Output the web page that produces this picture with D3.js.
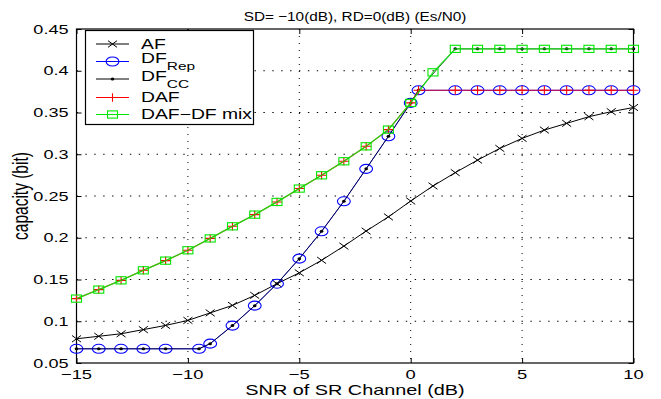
<!DOCTYPE html>
<html><head><meta charset="utf-8">
<script src="https://cdn.jsdelivr.net/npm/d3@7/dist/d3.min.js"></script>
<style>body{margin:0;background:#fff}svg{display:block}</style></head>
<body><svg id="c" width="661" height="399"></svg>
<script>
// ---- data ----
const xTicks = [-15, -10, -5, 0, 5, 10];
const yTicks = [0.05, 0.1, 0.15, 0.2, 0.25, 0.3, 0.35, 0.4, 0.45];
const yTickLabels = ["0.05", "0.1", "0.15", "0.2", "0.25", "0.3", "0.35", "0.4", "0.45"];

const afX = [-15,-14,-13,-12,-11,-10,-9,-8,-7,-6,-5,-4,-3,-2,-1,0,1,2,3,4,5,6,7,8,9,10];
const afY = [0.079,0.082,0.085,0.090,0.095,0.101,0.110,0.119,0.131,0.145,0.158,0.173,0.190,0.208,0.225,0.244,0.262,0.278,0.293,0.307,0.319,0.329,0.337,0.345,0.351,0.356];

const dfX = [-15,-14,-13,-12,-11,-9.5,-9,-8,-7,-6,-5,-4,-3,-2,-1,0,0.35,2,3,4,5,6,7,8,9,10];
const dfRepY = [0.067,0.067,0.067,0.067,0.067,0.067,0.0732,0.0948,0.1187,0.145,0.175,0.2077,0.2437,0.2825,0.3215,0.3615,0.3766,0.3766,0.3766,0.3766,0.3766,0.3766,0.3766,0.3766,0.3766,0.3766];
const dfCcY  = [0.067,0.067,0.067,0.067,0.067,0.067,0.0732,0.0948,0.1187,0.145,0.175,0.2077,0.2437,0.2825,0.3215,0.3615,0.3766,0.4262,0.4262,0.4262,0.4262,0.4262,0.4262,0.4262,0.4262,0.4262];

const dafX = [-15,-14,-13,-12,-11,-10,-9,-8,-7,-6,-5,-4,-3,-2,-1,0,0.35,2,3,4,5,6,7,8,9,10];
const dafY = [0.1271,0.1379,0.149,0.161,0.1726,0.185,0.1992,0.2137,0.2277,0.2429,0.2589,0.2748,0.2916,0.3095,0.3295,0.3615,0.3766,0.3766,0.3766,0.3766,0.3766,0.3766,0.3766,0.3766,0.3766,0.3766];

const mixX = [-15,-14,-13,-12,-11,-10,-9,-8,-7,-6,-5,-4,-3,-2,-1,0,1,2,3,4,5,6,7,8,9,10];
const mixY = [0.1271,0.1379,0.149,0.161,0.1726,0.185,0.1992,0.2137,0.2277,0.2429,0.2589,0.2748,0.2916,0.3095,0.3295,0.3615,0.3981,0.4262,0.4262,0.4262,0.4262,0.4262,0.4262,0.4262,0.4262,0.4262];

const titleText = "SD= \u221210(dB), RD=0(dB) (Es/N0)";
const xLabel = "SNR of SR Channel (dB)";
const yLabel = "capacity (bit)";

// ---- layout ----
const L = 76.5, R = 633.5, T = 29, B = 363;
const FONT = "'Liberation Sans', Arial, Helvetica, sans-serif";
const SX = 1.38;
const GREEN = "#00e600";

const svg = d3.select("#c");
const x = d3.scaleLinear().domain([-15, 10]).range([L, R]);
const y = d3.scaleLinear().domain([0.05, 0.45]).range([B, T]);

function txt(g, px, py, s, anchor, fs, sx) {
  const gg = g.append("g").attr("transform", `translate(${px},${py}) scale(${sx == null ? SX : sx},1)`);
  return gg.append("text").attr("font-family", FONT).attr("font-size", fs)
    .attr("text-anchor", anchor || "start").attr("fill", "#000").text(s);
}

// grid
const grid = svg.append("g");
grid.selectAll("line.gx").data(xTicks.slice(1, -1)).join("line")
  .attr("x1", d => x(d)).attr("x2", d => x(d)).attr("y1", T).attr("y2", B)
  .attr("stroke", "#000").attr("stroke-width", 1).attr("stroke-dasharray", "1,6");
grid.selectAll("line.gy").data(yTicks.slice(1, -1)).join("line")
  .attr("x1", L).attr("x2", R).attr("y1", d => y(d)).attr("y2", d => y(d))
  .attr("stroke", "#000").attr("stroke-width", 1).attr("stroke-dasharray", "1.4,7.5");

// axes (box with inward ticks)
const ax = svg.append("g");
ax.append("g").attr("transform", `translate(0,${B})`).call(d3.axisBottom(x).tickValues(xTicks).tickSize(-5).tickFormat(""));
ax.append("g").attr("transform", `translate(0,${T})`).call(d3.axisTop(x).tickValues(xTicks).tickSize(-5).tickFormat(""));
ax.append("g").attr("transform", `translate(${L},0)`).call(d3.axisLeft(y).tickValues(yTicks).tickSize(-5).tickFormat(""));
ax.append("g").attr("transform", `translate(${R},0)`).call(d3.axisRight(y).tickValues(yTicks).tickSize(-5).tickFormat(""));
ax.selectAll(".domain").remove();
ax.selectAll(".tick line").attr("stroke", "#000");
ax.append("rect").attr("x", L).attr("y", T).attr("width", R - L).attr("height", B - T)
  .attr("fill", "none").attr("stroke", "#000").attr("stroke-width", 1.2);

// tick labels
xTicks.forEach(v => txt(svg, x(v), 379, v < 0 ? "\u2212" + Math.abs(v) : String(v), "middle", 13.3));
yTicks.forEach((v, i) => txt(svg, 68.5, y(v) + 4.7, yTickLabels[i], "end", 13.1));

// labels
txt(svg, (L + R) / 2, 395, xLabel, "middle", 14.6, 1.36);
txt(svg, (L + R) / 2, 21, titleText, "middle", 13, 1.18);
{
  const g = svg.append("g").attr("transform", `translate(28,${(T + B) / 2}) scale(${SX},1) rotate(-90)`);
  g.append("text").attr("font-family", FONT).attr("font-size", 15.5).attr("text-anchor", "middle").text(yLabel);
}

// ---- series ----
const plot = svg.append("g");
function series(xs, ys, color, width, op) {
  const pts = xs.map((v, i) => [v, ys[i]]);
  plot.append("path").datum(pts)
    .attr("d", d3.line().x(d => x(d[0])).y(d => y(d[1])))
    .attr("fill", "none").attr("stroke", color).attr("stroke-width", width || 1)
    .attr("stroke-opacity", op == null ? 1 : op);
  return pts;
}
function markers(pts, kind, color) {
  pts.forEach(p => drawMarker(plot, x(p[0]), y(p[1]), kind, color));
}
function drawMarker(g, cx, cy, kind, color) {
  if (kind === "x") {
    g.append("path").attr("d", `M${cx-4.5},${cy-3.3}L${cx+4.5},${cy+3.3}M${cx-4.5},${cy+3.3}L${cx+4.5},${cy-3.3}`)
      .attr("stroke", color).attr("stroke-width", 1).attr("fill", "none");
  } else if (kind === "o") {
    g.append("ellipse").attr("cx", cx).attr("cy", cy).attr("rx", 6.4).attr("ry", 4.5)
      .attr("fill", "none").attr("stroke", color).attr("stroke-width", 1.1);
  } else if (kind === ".") {
    g.append("ellipse").attr("cx", cx).attr("cy", cy).attr("rx", 1.8).attr("ry", 1.5).attr("fill", color);
  } else if (kind === "+") {
    g.append("path").attr("d", `M${cx-5},${cy}L${cx+5},${cy}M${cx},${cy-4.2}L${cx},${cy+4.2}`)
      .attr("stroke", color).attr("stroke-width", 1.1).attr("fill", "none");
  } else if (kind === "s") {
    g.append("rect").attr("x", cx - 5).attr("y", cy - 3.6).attr("width", 10).attr("height", 7.2)
      .attr("fill", "none").attr("stroke", color).attr("stroke-width", 1.1);
  }
}

const afPts = series(afX, afY, "#000", 1); markers(afPts, "x", "#000");
const repPts = series(dfX, dfRepY, "#0000ff", 1); markers(repPts, "o", "#0000ff");
const ccPts = series(dfX, dfCcY, "#000", 1, 0.7); markers(ccPts, ".", "#000");
const dafPts = series(dafX, dafY, "#ff0000", 1.1, 0.8); markers(dafPts, "+", "#ff0000");
const mixPts = series(mixX, mixY, GREEN, 1.3, 0.85); markers(mixPts, "s", GREEN);

// ---- legend ----
const lg = svg.append("g");
lg.append("rect").attr("x", 85.5).attr("y", 30.5).attr("width", 168).attr("height", 94)
  .attr("fill", "#fff").attr("stroke", "#000").attr("stroke-width", 1.2);
const legendNames = ["AF", "DF", "DF", "DAF", "DAF\u2212DF mix"];
const legendSubs = ["", "Rep", "CC", "", ""];
const legendColors = ["#000", "#0000ff", "#000", "#ff0000", GREEN];
const legendKinds = ["x", "o", ".", "+", "s"];
const rowY = [44, 61.5, 79, 97.5, 114.5];
const LFS = 14;
legendNames.forEach((n, i) => {
  const yy = rowY[i];
  lg.append("line").attr("x1", 96).attr("x2", 129).attr("y1", yy).attr("y2", yy)
    .attr("stroke", legendColors[i]).attr("stroke-width", 1);
  drawMarker(lg, 112.5, yy, legendKinds[i], legendColors[i]);
  if (legendSubs[i]) {
    const t = txt(lg, 141, yy + 1.5, n, "start", LFS);
    t.append("tspan").attr("dy", 7).attr("font-size", LFS * 0.8).text(legendSubs[i]);
  } else {
    txt(lg, 141, yy + 4.8, n, "start", LFS);
  }
});
</script></body></html>
